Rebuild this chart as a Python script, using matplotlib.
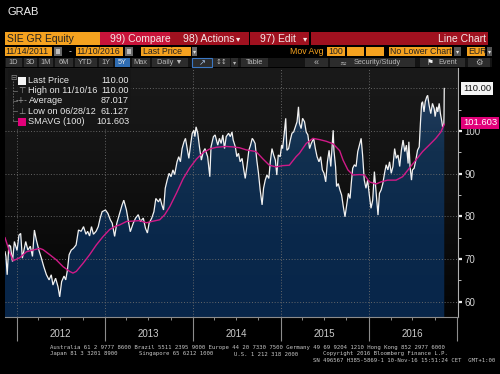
import matplotlib
matplotlib.use('Agg')
import matplotlib.pyplot as plt
import matplotlib.dates as mdates
from matplotlib.patches import Rectangle, Polygon
from matplotlib.colors import LinearSegmentedColormap
from matplotlib.transforms import blended_transform_factory
import numpy as np
import pandas as pd

# ---------------- data ----------------
price_dates = [
    '2011-11-14', '2011-11-18', '2011-11-23', '2011-11-30', '2011-12-07', '2011-12-15', '2011-12-23',
    '2012-01-03', '2012-01-11', '2012-01-18', '2012-01-25', '2012-02-08', '2012-02-17', '2012-02-27',
    '2012-03-07', '2012-03-15', '2012-03-23', '2012-04-03', '2012-04-13', '2012-04-23', '2012-05-04',
    '2012-05-15', '2012-05-24', '2012-05-31', '2012-06-11', '2012-06-21', '2012-06-28', '2012-07-06',
    '2012-07-16', '2012-07-23', '2012-07-30', '2012-08-06', '2012-08-15', '2012-08-24', '2012-09-04',
    '2012-09-14', '2012-09-25', '2012-10-05', '2012-10-15', '2012-10-22', '2012-10-30', '2012-11-07',
    '2012-11-15', '2012-11-26', '2012-12-05', '2012-12-13', '2012-12-21', '2013-01-04', '2013-01-14',
    '2013-01-24', '2013-02-01', '2013-02-11', '2013-02-20', '2013-03-04', '2013-03-14', '2013-03-21',
    '2013-04-01', '2013-04-08', '2013-04-17', '2013-04-29', '2013-05-09', '2013-05-20', '2013-05-29',
    '2013-06-10', '2013-06-19', '2013-06-27', '2013-07-04', '2013-07-15', '2013-07-24', '2013-08-01',
    '2013-08-12', '2013-08-19', '2013-08-26', '2013-09-02', '2013-09-09', '2013-09-17', '2013-09-25',
    '2013-10-03', '2013-10-11', '2013-10-18', '2013-10-28', '2013-11-04', '2013-11-11', '2013-11-18',
    '2013-11-26', '2013-12-02', '2013-12-09', '2013-12-16', '2013-12-23', '2013-12-30', '2014-01-06',
    '2014-01-10', '2014-01-15', '2014-01-22', '2014-01-29', '2014-02-06', '2014-02-14', '2014-02-21',
    '2014-03-04', '2014-03-13', '2014-03-18', '2014-03-28', '2014-04-04', '2014-04-15', '2014-04-22',
    '2014-04-29', '2014-05-06', '2014-05-13', '2014-05-20', '2014-05-30', '2014-06-06', '2014-06-13',
    '2014-06-18', '2014-06-27', '2014-07-03', '2014-07-10', '2014-07-17', '2014-07-25', '2014-08-01',
    '2014-08-07', '2014-08-14', '2014-08-22', '2014-08-29', '2014-09-05', '2014-09-10', '2014-09-17',
    '2014-09-24', '2014-10-01', '2014-10-08', '2014-10-16', '2014-10-22', '2014-10-29', '2014-11-05',
    '2014-11-13', '2014-11-19', '2014-11-26', '2014-12-03', '2014-12-10', '2014-12-16', '2014-12-22',
    '2014-12-30', '2015-01-05', '2015-01-09', '2015-01-16', '2015-01-22', '2015-01-27', '2015-02-03',
    '2015-02-10', '2015-02-17', '2015-02-24', '2015-03-03', '2015-03-10', '2015-03-16', '2015-03-20',
    '2015-03-27', '2015-04-02', '2015-04-10', '2015-04-17', '2015-04-24', '2015-05-01', '2015-05-08',
    '2015-05-18', '2015-05-25', '2015-06-01', '2015-06-09', '2015-06-16', '2015-06-23', '2015-06-30',
    '2015-07-07', '2015-07-14', '2015-07-21', '2015-07-28', '2015-08-03', '2015-08-07', '2015-08-10',
    '2015-08-17', '2015-08-21', '2015-08-28', '2015-09-04', '2015-09-11', '2015-09-18', '2015-09-25',
    '2015-10-02', '2015-10-09', '2015-10-16', '2015-10-21', '2015-10-27', '2015-11-03', '2015-11-10',
    '2015-11-17', '2015-11-24', '2015-12-01', '2015-12-07', '2015-12-14', '2015-12-21', '2015-12-28',
    '2016-01-04', '2016-01-11', '2016-01-18', '2016-01-25', '2016-02-01', '2016-02-09', '2016-02-15',
    '2016-02-22', '2016-02-29', '2016-03-07', '2016-03-14', '2016-03-21', '2016-03-28', '2016-04-04',
    '2016-04-11', '2016-04-18', '2016-04-25', '2016-05-02', '2016-05-09', '2016-05-16', '2016-05-23',
    '2016-05-30', '2016-06-06', '2016-06-13', '2016-06-16', '2016-06-21', '2016-06-27', '2016-07-01',
    '2016-07-08', '2016-07-15', '2016-07-22', '2016-07-29', '2016-08-03', '2016-08-08', '2016-08-12',
    '2016-08-18', '2016-08-23', '2016-08-29', '2016-09-02', '2016-09-08', '2016-09-15', '2016-09-22',
    '2016-09-29', '2016-10-03', '2016-10-10', '2016-10-14', '2016-10-20', '2016-10-25', '2016-10-31',
    '2016-11-03', '2016-11-08', '2016-11-09', '2016-11-10',
]
price_vals = [
    71.7, 70.6, 66.3, 73.3, 73.0, 69.4, 74.1,
    72.0, 75.6, 76.0, 70.2, 74.1, 72.1, 73.0,
    70.6, 76.8, 74.5, 72.0, 70.2, 68.2, 66.3,
    65.1, 66.3, 63.9, 65.5, 63.5, 61.127, 64.7,
    66.0, 65.1, 67.4, 71.0, 72.1, 72.5, 73.3,
    76.8, 76.5, 77.6, 75.8, 76.5, 75.4, 77.6,
    75.8, 76.5, 77.6, 79.6, 81.1, 81.5, 80.7,
    79.2, 78.4, 75.3, 78.4, 80.7, 82.7, 83.8,
    81.5, 79.2, 76.4, 78.4, 79.6, 80.4, 78.8,
    79.6, 77.2, 76.1, 78.4, 79.6, 81.1, 84.2,
    83.4, 84.2, 82.7, 81.5, 86.6, 88.5, 90.1,
    89.3, 90.9, 89.8, 92.8, 94.0, 92.8, 95.9,
    97.5, 98.3, 95.9, 93.6, 96.7, 99.5, 100.2,
    98.7, 101.0, 99.5, 96.3, 93.2, 95.2, 95.9,
    94.0, 89.3, 96.3, 98.7, 99.1, 96.7, 98.3,
    97.1, 99.1, 95.9, 98.7, 99.5, 98.7, 99.8,
    97.9, 96.3, 94.0, 94.8, 92.8, 93.6, 90.9,
    88.9, 91.7, 95.5, 96.7, 98.3, 97.9, 97.1,
    93.2, 90.1, 86.2, 82.7, 86.6, 88.5, 89.7,
    88.9, 92.8, 95.9, 94.4, 93.2, 89.7, 94.4,
    94.0, 96.7, 95.9, 99.5, 103.0, 95.5, 95.9,
    97.9, 99.5, 99.8, 101.0, 102.2, 105.7, 101.8,
    100.6, 103.0, 102.2, 99.8, 99.1, 95.9, 97.1,
    98.3, 95.9, 94.0, 92.8, 94.0, 90.9, 90.1,
    88.1, 92.8, 95.5, 91.7, 96.7, 100.2, 95.5,
    91.6, 87.0, 87.7, 86.2, 85.0, 82.3, 79.9,
    82.7, 85.4, 84.2, 87.7, 91.3, 92.1, 91.7,
    95.2, 96.7, 98.3, 94.4, 88.5, 86.6, 88.5,
    85.0, 81.9, 83.8, 90.5, 85.8, 80.3, 85.4,
    86.2, 87.7, 90.1, 92.1, 90.9, 92.8, 90.1,
    91.7, 95.9, 93.6, 94.4, 91.7, 95.5, 97.9,
    95.2, 96.7, 92.4, 97.5, 91.7, 88.5, 90.9,
    91.3, 93.2, 95.5, 96.3, 101.8, 106.5, 106.9,
    104.5, 106.9, 108.0, 108.4, 106.1, 104.1, 106.5,
    105.3, 103.4, 105.7, 104.5, 106.5, 104.1, 102.2,
    101.0, 101.5, 104.0, 110.0,
]

sma_dates = [
    '2011-11-14', '2011-12-04', '2011-12-18', '2012-01-14', '2012-02-11', '2012-03-09', '2012-04-06',
    '2012-04-20', '2012-05-18', '2012-06-14', '2012-07-12', '2012-08-08', '2012-08-22', '2012-09-05',
    '2012-10-03', '2012-10-30', '2012-11-27', '2012-12-24', '2013-01-21', '2013-02-11', '2013-03-04',
    '2013-04-01', '2013-05-26', '2013-06-23', '2013-07-14', '2013-08-17', '2013-09-07', '2013-09-28',
    '2013-10-26', '2013-11-22', '2013-12-20', '2014-01-16', '2014-02-12', '2014-03-12', '2014-04-09',
    '2014-05-20', '2014-06-16', '2014-07-14', '2014-08-11', '2014-09-21', '2014-10-19', '2014-11-15',
    '2014-12-13', '2015-01-09', '2015-02-06', '2015-03-06', '2015-03-20', '2015-04-17', '2015-05-15',
    '2015-06-12', '2015-07-10', '2015-08-07', '2015-09-03', '2015-09-17', '2015-10-07', '2015-10-28',
    '2015-11-24', '2015-12-15', '2016-01-04', '2016-02-01', '2016-02-22', '2016-03-20', '2016-04-24',
    '2016-05-21', '2016-06-18', '2016-07-15', '2016-08-12', '2016-09-08', '2016-10-06', '2016-10-27',
    '2016-11-10',
]
sma_vals = [
    75.0, 71.5, 69.6, 70.3, 71.7, 72.1, 72.5,
    72.2, 71.0, 69.8, 68.2, 67.1, 66.7, 67.1,
    69.0, 71.0, 73.3, 75.2, 76.9, 77.6, 78.0,
    78.8, 79.0, 78.5, 78.8, 79.2, 80.4, 82.3,
    85.5, 88.8, 91.4, 93.4, 94.9, 95.8, 96.2,
    96.4, 96.3, 96.1, 95.6, 95.2, 93.5, 92.0,
    91.6, 91.9, 92.0, 94.0, 94.8, 97.1, 98.3,
    98.0, 97.6, 97.0, 95.4, 93.2, 90.9, 89.7,
    89.8, 89.7, 88.1, 87.6, 88.1, 88.5, 88.5,
    89.3, 91.3, 93.2, 95.2, 96.7, 98.3, 99.8,
    101.603,
]

year_labels = ['2012', '2013', '2014', '2015', '2016']
y_ticks = [60, 70, 80, 90, 100]
y_tick_labels = ['60', '70', '80', '90', '100']
grid_levels = [60, 70, 80, 90, 100, 110]

legend_rows = ['Last Price', 'High on 11/10/16', 'Average', 'Low on 06/28/12', 'SMAVG (100)']
legend_vals = ['110.00', '110.00', '87.017', '61.127', '101.603']
last_price = 110.00
last_sma = 101.603

# ---------------- figure ----------------
W, H = 500, 374
FONT = ['Liberation Sans', 'DejaVu Sans']
fig = plt.figure(figsize=(W / 100, H / 100), dpi=100, facecolor='black')


def rect(x0, y0, x1, y1, color, z=1, **kw):
    fig.add_artist(Rectangle((x0 / W, 1 - y1 / H), (x1 - x0) / W, (y1 - y0) / H,
                             transform=fig.transFigure, facecolor=color,
                             edgecolor=kw.pop('ec', 'none'), zorder=z, **kw))


def txt(x, y, s, size=6.5, color='white', ha='left', va='center', family=FONT, z=3, **kw):
    fig.text(x / W, 1 - y / H, s, fontsize=size, color=color, ha=ha, va=va,
             family=family, zorder=z, **kw)


ORANGE = '#f5a21f'
RED1 = '#c8143a'
RED2 = '#a0111f'
BTN = '#2c2c2c'
BTN_TXT = '#b8b8b8'
SYM = ['DejaVu Sans']

# title
txt(8, 12, 'GRAB', size=8, color='#f0f0f0')

# row 1
rect(5, 32, 100, 45, ORANGE)
txt(7, 38.7, 'SIE GR Equity', size=7.5, color='#222222')
rect(100, 32, 170, 45, RED1)
txt(110, 38.7, '99) Compare', size=7.5, color='#f4e6e6')
rect(170, 32, 249, 45, RED2)
txt(183, 38.7, '98) Actions', size=7.5, color='#f4e6e6')
txt(238, 38.7, '\u25be', size=6, color='#f4e6e6', family=SYM, ha='center')
rect(250, 32, 309, 45, RED2)
txt(260, 38.7, '97) Edit', size=7.5, color='#f4e6e6')
txt(305, 38.7, '\u25be', size=6, color='#f4e6e6', family=SYM, ha='center')
rect(311, 32, 488, 45, RED2)
txt(486, 38.7, 'Line Chart', size=7.5, color='#f4e6e6', ha='right')

# row 2
rect(5, 47, 52, 56, ORANGE)
txt(5.5, 51.7, '11/14/2011', size=6.3, color='#222222')
rect(54, 47, 62, 56, '#6a6a6a')
rect(56, 49, 60, 54, '#bdbdbd')
txt(69, 51.5, '-', size=6.3, color='#dddddd')
rect(76, 47, 123, 56, ORANGE)
txt(76.5, 51.7, '11/10/2016', size=6.3, color='#222222')
rect(125, 47, 133, 56, '#6a6a6a')
rect(127, 49, 131, 54, '#bdbdbd')
rect(141, 47, 191, 56, ORANGE)
txt(143, 51.7, 'Last Price', size=6.3, color='#222222')
rect(192, 47, 197, 56, '#6a6a6a')
txt(194.5, 51.5, '\u25be', size=4.5, color='#dddddd', ha='center', family=SYM)
txt(290, 51.7, 'Mov Avg', size=6.3, color=ORANGE)
rect(327, 47, 345, 56, ORANGE)
txt(328, 51.7, '100', size=6.3, color='#222222')
rect(347, 47, 364, 56, ORANGE)
rect(366, 47, 384, 56, ORANGE)
rect(389, 47, 452, 56, ORANGE)
txt(390, 51.7, 'No Lower Chart', size=6.3, color='#222222')
rect(454, 47, 461, 56, '#555555')
txt(457.5, 51.5, '\u25be', size=4.5, color='#dddddd', ha='center', family=SYM)
rect(467, 47, 485, 56, ORANGE)
txt(468, 51.7, 'EUR', size=6.3, color='#222222')
rect(487, 47, 492, 56, '#555555')
txt(489.5, 51.5, '\u25be', size=4.5, color='#dddddd', ha='center', family=SYM)

# row 3 buttons
rect(5, 58, 492, 67, '#141414')
buttons = [(5, 22, '1D'), (23, 37, '3D'), (38, 53, '1M'), (54, 73, '6M'), (74, 97, 'YTD'),
           (98, 113, '1Y'), (114, 130, '5Y'), (131, 150, 'Max'), (151, 188, 'Daily \u25bc')]
for bx0, bx1, lab in buttons:
    rect(bx0 + 0.5, 58, bx1 - 0.5, 67, '#2f6db3' if lab == '5Y' else BTN)
    txt((bx0 + bx1) / 2, 62.6, lab, size=5.3, color='#e8e8e8' if lab == '5Y' else BTN_TXT, ha='center')
rect(192, 58, 212, 67, BTN, ec='#3b78c4', lw=0.8)
txt(202, 62.4, '\u2197', size=6, color='#a8c4e8', ha='center', family=SYM)
rect(213, 58, 230, 67, BTN)
txt(221.5, 62.4, '\u2195\u2195', size=5, color=BTN_TXT, ha='center', family=SYM)
rect(231, 58, 238, 67, BTN)
txt(234.5, 62.4, '\u25be', size=4.5, color=BTN_TXT, ha='center', family=SYM)
rect(241, 58, 268, 67, BTN)
txt(254.5, 62.6, 'Table', size=5.3, color=BTN_TXT, ha='center')
rect(305, 58, 328, 67, BTN)
txt(316.5, 62.4, '\u00ab', size=6.5, color=BTN_TXT, ha='center')
rect(330, 58, 415, 67, BTN)
txt(343, 62.4, '\u2248', size=6, color=BTN_TXT, ha='center', family=SYM)
txt(354, 62.6, 'Security/Study', size=5.3, color=BTN_TXT)
rect(420, 58, 465, 67, BTN)
txt(430, 62.4, '\u2691', size=5.5, color='#eeeeee', ha='center', family=SYM)
txt(438, 62.6, 'Event', size=5.3, color=BTN_TXT)
rect(468, 58, 490, 67, BTN)
txt(479, 62.4, '\u2699', size=6, color=BTN_TXT, ha='center', family=SYM)

# ---------------- chart axes ----------------
left, right, top, bottom = 5, 458, 68, 317
ax = fig.add_axes([left / W, 1 - bottom / H, (right - left) / W, (bottom - top) / H])
ax.set_facecolor('black')

p_dates = pd.to_datetime(price_dates)
s_dates = pd.to_datetime(sma_dates)
px = mdates.date2num(p_dates)
x_lo = mdates.date2num(pd.Timestamp('2011-11-14'))
x_hi = mdates.date2num(pd.Timestamp('2017-01-06'))
y_lo, y_hi = 56.4, 114.8

grad = np.linspace(0, 1, 256).reshape(-1, 1)
bg_cmap = LinearSegmentedColormap.from_list('bg', ['#040404', '#0c0c0c', '#141414', '#1a1a1a'])
ax.imshow(grad, extent=[x_lo, x_hi, y_lo, y_hi], origin='lower', aspect='auto',
          cmap=bg_cmap, zorder=0, interpolation='bilinear')

fill_cmap = LinearSegmentedColormap.from_list('fill', ['#08264a', '#0a284b', '#12304f', '#2a4262'])
im = ax.imshow(grad, extent=[x_lo, x_hi, y_lo, y_hi], origin='lower', aspect='auto',
               cmap=fill_cmap, zorder=1, interpolation='bilinear')
verts = np.column_stack([np.r_[px[0], px, px[-1]], np.r_[y_lo, price_vals, y_lo]])
poly = Polygon(verts, closed=True, facecolor='none', edgecolor='none', transform=ax.transData)
ax.add_patch(poly)
im.set_clip_path(poly)

# grid
for lv in grid_levels:
    ax.axhline(lv, color='#6f6f6f', lw=0.6, ls=(0, (1.2, 2.2)), zorder=2)
for yl in year_labels:
    ax.axvline(mdates.date2num(pd.Timestamp(f'{yl}-01-01')), color='#6f6f6f', lw=0.6,
               ls=(0, (1.2, 2.2)), zorder=2)

ax.plot(p_dates, price_vals, color='#f2f2f2', lw=0.9, zorder=4, solid_joinstyle='miter')
ax.plot(s_dates, sma_vals, color='#d01a88', lw=1.0, zorder=5)

ax.set_xlim(x_lo, x_hi)
ax.set_ylim(y_lo, y_hi)

for sp in ['left', 'top']:
    ax.spines[sp].set_visible(False)
ax.spines['bottom'].set_color('#8c8c8c')
ax.spines['right'].set_color('#b0b0b0')
ax.spines['bottom'].set_linewidth(0.8)
ax.spines['right'].set_linewidth(0.8)

ax.xaxis.set_major_locator(mdates.YearLocator())
ax.xaxis.set_minor_locator(mdates.MonthLocator(bymonth=[4, 7, 10]))
ax.tick_params(axis='x', which='major', length=17, width=0.8, color='#8c8c8c', labelbottom=False)
ax.tick_params(axis='x', which='minor', length=2.5, width=0.7, color='#8c8c8c')

ax.yaxis.tick_right()
ax.set_yticks(y_ticks)
ax.set_yticklabels(y_tick_labels)
ax.set_yticks([65, 75, 85, 95, 105], minor=True)
ax.tick_params(axis='y', which='major', length=3.2, width=1.6, color='#eeeeee',
               labelsize=7, labelcolor='#d4d4d4', pad=1.5)
ax.tick_params(axis='y', which='minor', length=2, width=0.7, color='#bbbbbb')
for lab in ax.get_yticklabels():
    lab.set_family(FONT)

trans_xd = blended_transform_factory(ax.transData, ax.transAxes)
for yl in year_labels:
    ax.text(mdates.date2num(pd.Timestamp(f'{yl}-07-01')), -0.068, yl, transform=trans_xd,
            ha='center', va='center', fontsize=7, color='#cccccc', family=FONT, clip_on=False)

trans_ay = blended_transform_factory(ax.transAxes, ax.transData)
ax.text(1.011, last_price, f'{last_price:.2f}', transform=trans_ay, ha='left', va='center',
        fontsize=6.8, color='#111111', family=FONT, clip_on=False, zorder=10,
        bbox=dict(boxstyle='square,pad=0.22', fc='#f4f4f4', ec='none'))
ax.text(1.011, last_sma + 0.3, f'{last_sma:.3f}', transform=trans_ay, ha='left', va='center',
        fontsize=6.8, color='white', family=FONT, clip_on=False, zorder=10,
        bbox=dict(boxstyle='square,pad=0.2', fc='#e2007a', ec='none'))

# ---------------- legend box ----------------
rect(8, 69, 131, 128, '#161616', z=5, alpha=0.92)
row_y = [80.5, 90.7, 100.9, 111.1, 121.4]
txt(13, 77.5, '\u229f', size=5.5, color='#8a8a8a', ha='center', family=SYM, z=7)
fig.add_artist(plt.Line2D([13 / W, 13 / W], [1 - 81 / H, 1 - 121.4 / H], transform=fig.transFigure,
                          color='#6a6a6a', lw=0.6, ls=(0, (2, 1.5)), zorder=6))
for yy in row_y[1:]:
    fig.add_artist(plt.Line2D([13 / W, 17 / W], [1 - yy / H, 1 - yy / H], transform=fig.transFigure,
                              color='#6a6a6a', lw=0.6, zorder=6))
rect(18, 76.5, 26, 84.5, '#f5f5f5', z=7)
txt(22, row_y[1], '\u22a4', size=6, color='#9a9a9a', ha='center', family=SYM, z=7)
txt(22, row_y[2], '-+-', size=5.5, color='#9a9a9a', ha='center', family=SYM, z=7)
txt(22, row_y[3], '\u22a5', size=6, color='#9a9a9a', ha='center', family=SYM, z=7)
rect(18, 117.5, 26, 125.5, '#e2007a', z=7)
for yy, lab, val in zip(row_y, legend_rows, legend_vals):
    txt(28.5, yy, lab, size=6.6, color='#e8e8e8', z=7)
    txt(129, yy, val, size=6.6, color='#e8e8e8', ha='right', z=7)

# ---------------- footer ----------------
MONO = ['DejaVu Sans Mono']
FS = 4.05
txt(50, 347.8, 'Australia 61 2 9777 8600 Brazil 5511 2395 9000 Europe 44 20 7330 7500 '
    'Germany 49 69 9204 1210 Hong Kong 852 2977 6000', size=FS, color='#c8c8c8', family=MONO)
txt(50, 354, 'Japan 81 3 3201 8900', size=FS, color='#c8c8c8', family=MONO)
txt(139, 354, 'Singapore 65 6212 1000', size=FS, color='#c8c8c8', family=MONO)
txt(234, 354, 'U.S. 1 212 318 2000', size=FS, color='#c8c8c8', family=MONO)
txt(448, 354, 'Copyright 2016 Bloomberg Finance L.P.', size=FS, color='#c8c8c8', family=MONO,
    ha='right')
txt(495, 361, 'SN 496567 H385-5869-1 10-Nov-16 15:51:24 CET  GMT+1:00', size=FS,
    color='#c8c8c8', family=MONO, ha='right')

fig.savefig('out.png', dpi=100, facecolor='black')
